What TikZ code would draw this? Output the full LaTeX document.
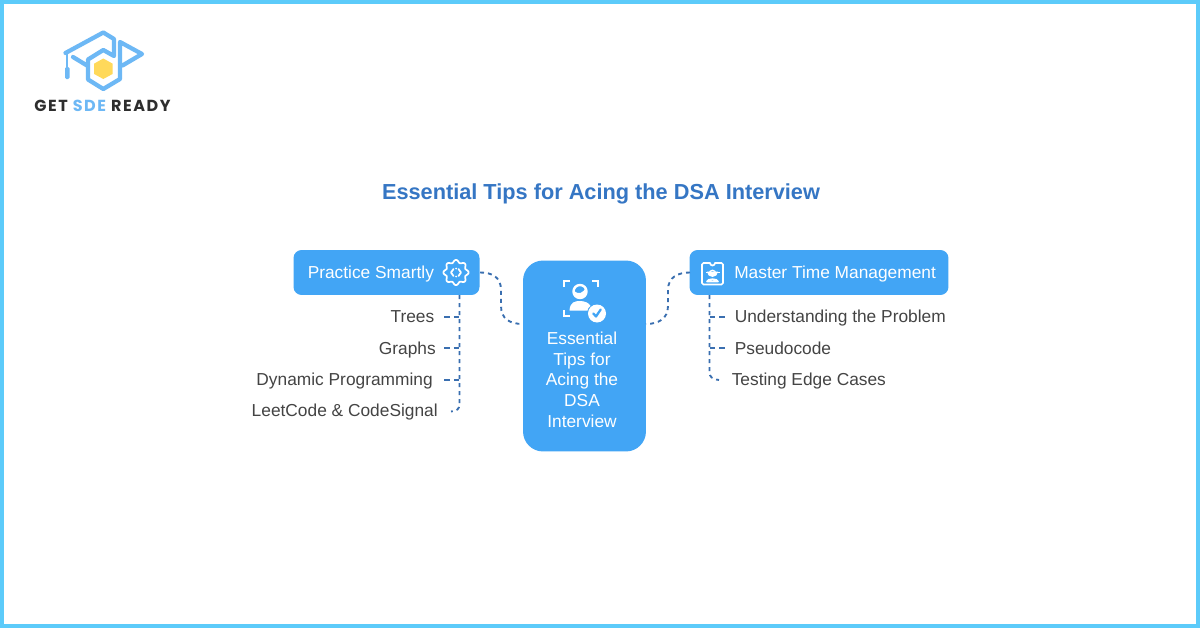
\documentclass[tikz,border=0pt]{standalone}
\usepackage{fontspec}
\setmainfont{Liberation Sans}
\newfontfamily\logofont[LetterSpace=10]{Poppins}
\definecolor{boxblue}{HTML}{42A5F5}
\definecolor{framec}{HTML}{5CCBFA}
\definecolor{titleb}{HTML}{3576C4}
\definecolor{dashb}{HTML}{3A6FB0}
\definecolor{txt}{HTML}{444444}
\definecolor{logob}{HTML}{6DB8F5}
\definecolor{logoy}{HTML}{FFD95A}
\definecolor{logok}{HTML}{2E2E2E}
\tikzset{
  x=0.75pt,y=-0.75pt,
  box/.style={fill=boxblue,draw=none,rounded corners=6pt,inner sep=0pt},
  conn/.style={draw=dashb,line width=1.4pt,dash pattern=on 3pt off 3pt},
  stub/.style={draw=dashb,line width=1.4pt,dash pattern=on 4.2pt off 3.2pt},
  item/.style={text=txt,font=\fontsize{13pt}{15pt}\selectfont,inner sep=0pt},
  head/.style={text=white,font=\fontsize{13pt}{15pt}\selectfont,inner sep=0pt},
  ico/.style={draw=white,line width=1.3pt,line cap=round,line join=round},
  lg/.style={draw=logob,line width=3.2pt,line cap=round,line join=round},
}
\begin{document}
\begin{tikzpicture}
\useasboundingbox (0,0) rectangle (1200,628);
\fill[white] (0,0) rectangle (1200,628);
\draw[framec,line width=3pt] (2,2) rectangle (1198,626);

% logo
\draw[lg] (65.5,53) -- (103.3,32.5) -- (114,39) -- (114,56) -- (103.3,50) -- (88,59.5) -- (88,79.5) -- (103.3,89) -- (120,79) -- (120,42) -- (142,54) -- (122.5,65.5);
\draw[lg] (73,57) -- (87,65.5);
\draw[logob,line width=1.5pt] (67.3,54) -- (67.3,68);
\fill[logob,rounded corners=1pt] (65,67) rectangle (69.5,79);
\fill[logoy] (103.3,58.5) -- (112.7,63.7) -- (112.7,73.9) -- (103.3,79) -- (94,73.9) -- (94,63.7) -- cycle;
\node[inner sep=0pt,font=\logofont\bfseries\fontsize{12pt}{13pt}\selectfont] (logotext) at (102.5,105.5) {\textcolor{logok}{GET} \textcolor{logob}{SDE} \textcolor{logok}{READY}};

\node[inner sep=0pt,anchor=base,text=titleb,font=\bfseries\fontsize{16.3pt}{19pt}\selectfont] (title) at (601,199) {Essential Tips for Acing the DSA Interview};

% boxes
\node[box,minimum width=139.5pt,minimum height=33.7pt] (practice) at (386.5,272.5) {};
\node[box,minimum width=194.2pt,minimum height=33.7pt] (master) at (819,272.5) {};
\node[box,rounded corners=15pt,minimum width=92.2pt,minimum height=143.2pt] (center) at (584.5,356) {};

\node[head,anchor=base west] (ptext) at (307.5,278.3) {Practice Smartly};
\node[head,anchor=base west] (mtext) at (734,278.3) {Master Time Management};
\node[head,align=center,font=\fontsize{13pt}{15.6pt}\selectfont] (ctext) at (582,379.7) {Essential\\Tips for\\Acing the\\DSA\\Interview};

% items
\node[item,anchor=base east] (trees) at (434.5,322.7) {Trees};
\node[item,anchor=base east] (graphs) at (436,354) {Graphs};
\node[item,anchor=base east] (dp) at (433,385.5) {Dynamic Programming};
\node[item,anchor=base east] (leet) at (438,416.7) {LeetCode \& CodeSignal};
\node[item,anchor=base west] (up) at (734.5,322.7) {Understanding the Problem};
\node[item,anchor=base west] (pseudo) at (734.5,354) {Pseudocode};
\node[item,anchor=base west] (edge) at (731.5,385.5) {Testing Edge Cases};

% connectors
\coordinate (pr) at (480,272.5);
\coordinate (cl) at (523,324);
\coordinate (cr) at (646,324);
\coordinate (ml) at (690,272.5);
\coordinate (pb) at (459.5,295);
\coordinate (mb) at (709.5,295);
\draw[conn] (pr) .. controls (492,272.5) and (501,277) .. (501,290) -- (501,306) .. controls (501,319) and (510,324) .. (cl);
\draw[conn] (ml) .. controls (678,272.5) and (668,277) .. (668,290) -- (668,306) .. controls (668,319) and (658,324) .. (cr);
\draw[conn] (pb) -- (459.5,404) .. controls (459.5,409) and (457,411) .. (451,411.5);
\draw[stub] (444,317) -- (459.5,317);
\draw[stub] (444,348) -- (459.5,348);
\draw[stub] (444,380) -- (459.5,380);
\draw[conn] (mb) -- (709.5,372) .. controls (709.5,377) and (712,379) .. (719,380);
\draw[stub] (709.5,317) -- (725,317);
\draw[stub] (709.5,348) -- (725,348);

% gear icon
\begin{scope}[shift={(456,272.5)}]
\draw[ico] plot[domain=0:360,samples=121,smooth] ({(11.3+1.3*cos(8*\x))*cos(\x)},{(11.3+1.3*cos(8*\x))*sin(\x)}) -- cycle;
\draw[ico] (-2.5,-3.5) -- (-5,0) -- (-2.5,3.5) (2.5,-3.5) -- (5,0) -- (2.5,3.5);
\fill[white] (0,-4) circle[radius=1] (0,4) circle[radius=1];
\end{scope}

% clipboard icon
\begin{scope}[shift={(712.5,273)}]
\draw[ico] (-4.5,-10) -- (-9,-10) -- (-10.5,-8.5) -- (-10.5,10) -- (-9,11.5) -- (9,11.5) -- (10.5,10) -- (10.5,-8.5) -- (9,-10) -- (4.5,-10);
\draw[ico] (-4.5,-10) -- (-2.5,-10) arc[start angle=180,end angle=0,radius=2.5] -- (4.5,-10);
\fill[white] (-5.5,-1.5) arc[start angle=180,end angle=0,radius=5.5] -- cycle;
\fill[white] (-7,-1.5) rectangle (7,-0.2);
\draw[ico,line width=1pt] (-3.2,0.5) arc[start angle=180,end angle=360,radius=3.2];
\draw[ico] (-5.5,8.5) .. controls (-5,5.5) and (5,5.5) .. (5.5,8.5) -- cycle;
\end{scope}

% centre icon
\begin{scope}[shift={(581,299)}]
\draw[ico,line width=1.7pt,line cap=butt,line join=miter] (-17,-12) -- (-17,-18) -- (-11,-18) (11,-18) -- (17,-18) -- (17,-12) (-17,11) -- (-17,17) -- (-11,17);
\draw[white,line width=1.8pt] (-1,-7.5) circle[radius=6.5];
\fill[white] (-7,-8) .. controls (-3,-4) and (3,-6) .. (5,-12) -- (5.5,-6) -- (0,0) -- (-5,-2) -- cycle;
\fill[white] (-11.5,11.5) .. controls (-11,3) and (-6,2) .. (-1,2) .. controls (4,2) and (8,4) .. (9.5,7) .. controls (7.5,8) and (6.5,10) .. (6.5,11.5) -- cycle;
\fill[white] (16,14.5) circle[radius=9];
\draw[boxblue,line width=1.7pt,line cap=round,line join=round] (12.3,14.5) -- (15,17.5) -- (19.7,10.5);
\end{scope}
\end{tikzpicture}
\end{document}
